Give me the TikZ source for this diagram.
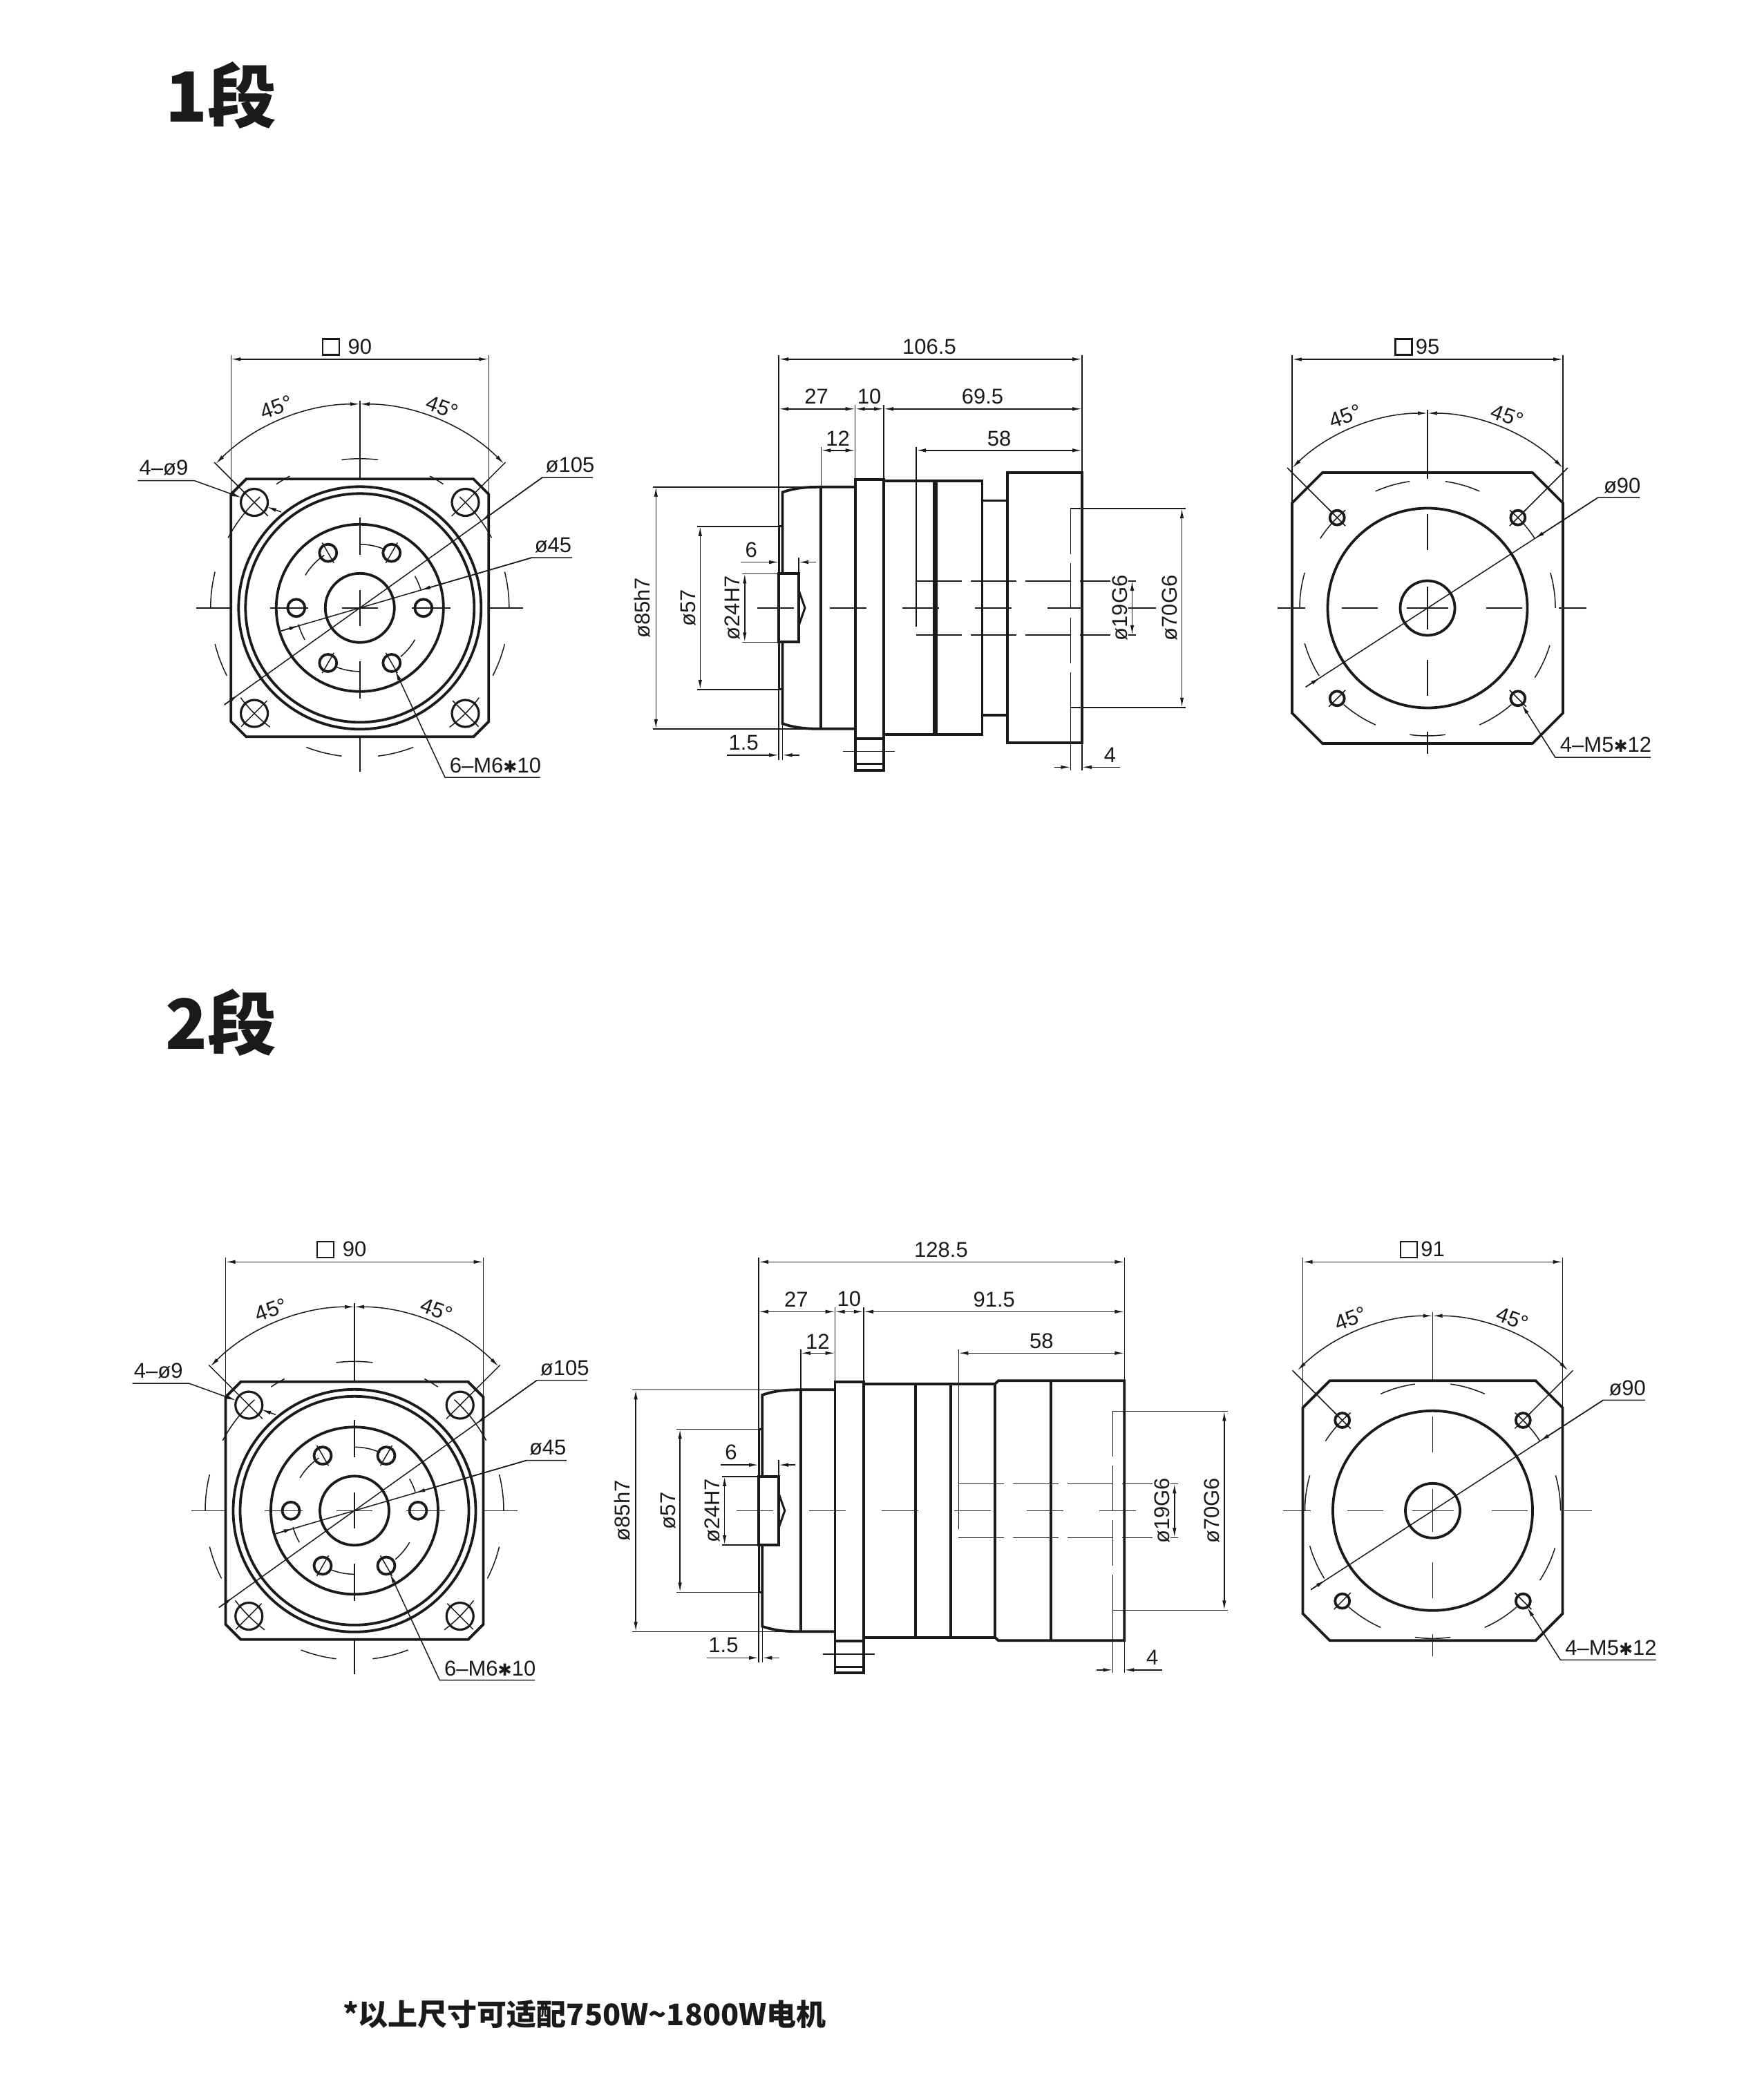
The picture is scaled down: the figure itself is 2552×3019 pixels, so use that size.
\documentclass[tikz,border=0pt]{standalone}
\usepackage{fontspec}
\setmainfont{Liberation Sans}
\newfontfamily\cjk{Noto Sans CJK SC}
\newfontfamily\symb{DejaVu Sans}
\usetikzlibrary{arrows.meta}
\definecolor{ink}{HTML}{1C1A19}
\tikzset{
  >={Latex[length=14pt,width=5.5pt]},
  main line/.style={draw=ink,line width=3.8pt,line join=miter},
  thin line/.style={draw=ink,line width=1.5pt},
  hidden line/.style={thin line,dash pattern=on 66pt off 13pt},
  centre line/.style={thin line,dash pattern=on 53pt off 52pt},
  dim text/.style={font=\fontsize{31}{36}\selectfont,text=ink,inner sep=0pt},
  square mark/.style={draw=ink,line width=2.6pt,minimum width=24pt,minimum height=23pt,inner sep=0pt},
  title/.style={font=\cjk\bfseries\fontsize{100}{110}\selectfont,text=ink,inner sep=0pt,anchor=west}
}
% flange seen from the output end
\newcommand\frontview[3]{
  \begin{scope}[shift={(#2,-#3)}]
    \draw[main line] (-164.5,186.5) -- (164.5,186.5) -- (186.5,164.5) -- (186.5,-164.5) -- (164.5,-186.5)
      -- (-164.5,-186.5) -- (-186.5,-164.5) -- (-186.5,164.5) -- cycle;
    \foreach \rad in {175.5,165.5,121,50}
      \draw[main line] (0,0) circle[radius=\rad];
    \foreach \ang in {0,60,...,300} {
      \draw[main line] (\ang:92) circle[radius=12.5];
      \draw[thin line] (\ang:75) -- (\ang:109);
    }
    \foreach \ang in {45,135,225,315}
      \draw[main line,line width=3.2pt] (\ang:216) circle[radius=19.5];
    \foreach \ang in {45,135}
      \draw[thin line] (\ang:188) -- (\ang:298);
    \foreach \ang in {225,315}
      \draw[thin line] (\ang:190) -- (\ang:243);
    % bolt circles
    \foreach \sa/\ea in {97/83,124/118,62/56,152/132,48/28,180/166,14/0,207/194,346/333,233/217,323/307,263/249,291/277}
      \draw[thin line] (\sa:216) arc[start angle=\sa,end angle=\ea,radius=216];
    \foreach \sa/\ea in {90/66,149/124,30/17,210/195,270/248,330/310}
      \draw[thin line] (\sa:92) arc[start angle=\sa,end angle=\ea,radius=92];
    % centre lines
    \foreach \sa/\ea in {300/187,131/77,26/-26,-77/-131,-186/-237} {
      \draw[thin line] (0,\sa) -- (0,\ea);
    }
    \foreach \sa/\ea in {-236.5/-186,-130/-75,-26/26,77/131,186/236}
      \draw[thin line] (\sa,0) -- (\ea,0);
    % dimensions
    \draw[thin line] (-186.5,366) -- (-186.5,164.5);
    \draw[thin line] (186.5,366) -- (186.5,164.5);
    \draw[thin line,<->] (-186.5,360) -- (186.5,360);
    \node[square mark] (#1box) at (-42,378) {};
    \node[dim text] (#1wide) at (0,378) {90};
    \draw[thin line,<->] (135:295) arc[start angle=135,end angle=90,radius=295];
    \draw[thin line,<->] (45:295) arc[start angle=45,end angle=90,radius=295];
    \node[dim text,rotate=20] (#1angl) at (-120.8,290.5) {45°};
    \node[dim text,rotate=-20] (#1angr) at (119.2,290.5) {45°};
    % leaders
    \node[dim text] (#1lhole) at (-283.8,202.8) {4–ø9};
    \draw[thin line,->] (-321.4,184.3) -- (-239.8,184.3) -- (-171.3,159.6);
    \draw[thin line,->] (-113.8,138.8) -- (-134.7,146.4);
    \node[dim text] (#1lpitch) at (304.2,206.8) {ø105};
    \draw[thin line] (337.2,188.8) -- (264.2,188.8) -- (215.55:241);
    \draw[thin line,->] (35.55:324.7) -- (35.55:216);
    \draw[thin line,->] (215.55:241) -- (215.55:216);
    \node[dim text] (#1lbolt) at (279.7,91.1) {ø45};
    \draw[thin line] (307.2,72.8) -- (249.2,72.8) -- (196.3:118.7);
    \draw[thin line,->] (16.3:259.6) -- (16.3:92);
    \draw[thin line,->] (196.3:118.7) -- (196.3:92);
    \node[dim text] (#1lthread) at (196.2,-228.2) {6–M6{\symb\fontsize{24}{36}\selectfont ✱}10};
    \draw[thin line,->] (260.8,-245.2) -- (123.2,-245.2) -- (51.3,-91);
  \end{scope}
}
% motor mounting plate; #4 half width, #5 corner cut, #6 size
\newcommand\rearview[6]{
  \begin{scope}[shift={(#2,-#3)}]
    \pgfmathsetmacro\plateflat{#4-#5}
    \draw[main line] (-\plateflat,#4) -- (\plateflat,#4) -- (#4,\plateflat) -- (#4,-\plateflat) -- (\plateflat,-#4)
      -- (-\plateflat,-#4) -- (-#4,-\plateflat) -- (-#4,\plateflat) -- cycle;
    \draw[main line] (0,0) circle[radius=144.5];
    \draw[main line] (0,0) circle[radius=39.5];
    \foreach \ang in {45,135,225,315} {
      \draw[main line] (\ang:185) circle[radius=10.5];
      \draw[thin line] (\ang:168) -- (\ang:202);
    }
    \foreach \ang in {45,135}
      \draw[thin line] (\ang:193) -- (\ang:287);
    \foreach \sa/\ea in {114/98,82/66,147/130,50/33,180/164,16/0,212/196,343/327,229/246,311/294,278/262}
      \draw[thin line] (\sa:185) arc[start angle=\sa,end angle=\ea,radius=185];
    \foreach \sa/\ea in {287/187,136/84,31/-31,-75/-127,-179/-211}
      \draw[thin line] (0,\sa) -- (0,\ea);
    \foreach \sa/\ea in {-217/-177,-124/-72,-30/30,85/137,190/230}
      \draw[thin line] (\sa,0) -- (\ea,0);
    \draw[thin line] (-#4,366) -- (-#4,\plateflat);
    \draw[thin line] (#4,366) -- (#4,\plateflat);
    \draw[thin line,<->] (-#4,360) -- (#4,360);
    \node[square mark] (#1box) at (-34.7,378) {};
    \node[dim text] (#1wide) at (0,378) {#6};
    \draw[thin line,<->] (134:282) arc[start angle=134,end angle=90,radius=282];
    \draw[thin line,<->] (46:282) arc[start angle=46,end angle=90,radius=282];
    \node[dim text,rotate=20] (#1angl) at (-119,278) {45°};
    \node[dim text,rotate=-20] (#1angr) at (115.6,278) {45°};
    \node[dim text] (#1lpitch) at (281.7,177) {ø90};
    \draw[thin line] (307.4,160) -- (246.9,160) -- (212.95:210);
    \draw[thin line,->] (32.95:294.2) -- (32.95:185);
    \draw[thin line,->] (212.95:210) -- (212.95:185);
    \node[dim text] (#1lthread) at (258,-198) {4–M5{\symb\fontsize{24}{36}\selectfont ✱}12};
    \draw[thin line,->] (323,-216) -- (184.8,-216) -- (136.6,-139.9);
  \end{scope}
}
% output end of the side view, measured from its left face
\newcommand\sidehead[3]{
  \begin{scope}[shift={(#2,-#3)}]
    \draw[main line] (0,49.5) rectangle (29,-49.5);
    \draw[main line,line width=3pt] (0,49.5) -- (0,118) -- (5.3,118);
    \draw[main line,line width=3pt] (0,-49.5) -- (0,-118) -- (5.3,-118);
    \draw[main line] (5.3,49.5) -- (5.3,167.5) .. controls (25,174) and (40,175) .. (61.1,175) -- (110.5,175);
    \draw[main line] (5.3,-49.5) -- (5.3,-167.5) .. controls (25,-174) and (40,-175) .. (61.1,-175) -- (110.5,-175);
    \draw[main line,line width=3pt] (29,25) -- (37.8,0) -- (29,-25);
    \draw[main line] (61.1,175) -- (61.1,-175);
    \draw[main line] (110.5,186) rectangle (151.8,-189);
    \draw[main line] (110.5,-189) -- (110.5,-235) -- (151.8,-235) -- (151.8,-189);
    \draw[main line,line width=3pt] (110.5,-226) -- (151.8,-226);
    \draw[thin line] (92.8,-207.5) -- (168.2,-207.5);
    % extension lines
    \draw[thin line] (0,366) -- (0,-220);
    \draw[thin line] (5.3,-167.5) -- (5.3,-220);
    \draw[thin line] (110.5,294) -- (110.5,186);
    \draw[thin line] (151.8,294) -- (151.8,186);
    \draw[thin line] (61.1,233) -- (61.1,175);
    \draw[thin line] (-182.7,175) -- (61.1,175);
    \draw[thin line] (-182.7,-175) -- (61.1,-175);
    \draw[thin line] (-118.7,118) -- (0,118);
    \draw[thin line] (-118.7,-118) -- (0,-118);
    \draw[thin line] (-53.2,49.5) -- (0,49.5);
    \draw[thin line] (-53.2,-49.5) -- (0,-49.5);
    \draw[thin line] (29,73) -- (29,49.5);
    % dimensions
    \draw[thin line,<->] (0,288) -- (110.5,288);
    \draw[thin line,<->] (110.5,288) -- (151.8,288);
    \draw[thin line,<->] (61.1,228) -- (110.5,228);
    \draw[thin line,<->] (-177.9,175) -- (-177.9,-175);
    \draw[thin line,<->] (-113.9,118) -- (-113.9,-118);
    \draw[thin line,<->] (-49.4,49.5) -- (-49.4,-49.5);
    \draw[thin line,->] (-54.8,66.2) -- (0,66.2);
    \draw[thin line,->] (53.3,66.2) -- (29,66.2);
    \draw[thin line,->] (-75.2,-213) -- (0,-213);
    \draw[thin line,->] (30.1,-213) -- (5.3,-213);
    \node[dim text] (#1t27) at (54.3,306) {27};
    \node[dim text] (#1t10) at (130.8,306) {10};
    \node[dim text] (#1t12) at (85.3,245) {12};
    \node[dim text,rotate=90] (#1t85) at (-197.2,0) {ø85h7};
    \node[dim text,rotate=90] (#1t57) at (-131,0) {ø57};
    \node[dim text,rotate=90] (#1t24) at (-67,0) {ø24H7};
    \node[dim text] (#1t6) at (-40,84) {6};
    \node[dim text] (#1t15) at (-51,-195) {1.5};
  \end{scope}
}
% input end of the side view, measured from its right face
\newcommand\sidetail[3]{
  \begin{scope}[shift={(#2,-#3)}]
    \draw[hidden line] (-240,39) -- (40.7,39);
    \draw[hidden line] (-240,-39) -- (40.7,-39);
    \draw[hidden line] (-16.7,144) -- (-16.7,-144);
    \draw[thin line] (-16.7,-144) -- (-16.7,-235);
    \draw[thin line] (-240,233) -- (-240,39);
    \draw[hidden line] (-240,39) -- (-240,-39);
    \draw[thin line] (0,366) -- (0,-235);
    \draw[thin line] (-16.7,144) -- (150,144);
    \draw[thin line] (-16.7,-144) -- (150,-144);
    \draw[thin line] (67,39) -- (78,39);
    \draw[thin line] (67,-39) -- (78,-39);
    \draw[thin line,<->] (-240,228) -- (0,228);
    \draw[thin line,<->] (144.5,144) -- (144.5,-144);
    \draw[thin line,<->] (72.5,39) -- (72.5,-39);
    \draw[thin line,->] (-40,-230.5) -- (-16.7,-230.5);
    \draw[thin line,->] (55,-230.5) -- (0,-230.5);
    \node[dim text] (#1t58) at (-120,245) {58};
    \node[dim text,rotate=90] (#1t19) at (54.5,0) {ø19G6};
    \node[dim text,rotate=90] (#1t70) at (126.7,0) {ø70G6};
    \node[dim text] (#1t4) at (40.5,-213) {4};
  \end{scope}
}

\begin{document}
\begin{tikzpicture}[x=1pt,y=1pt]
  \useasboundingbox (0,0) rectangle (2552,-3019);

  \node[title] (stage1) at (239,-138) {1段};
  \frontview{fa}{520.8}{879.8}
  \sidehead{ha}{1127.2}{879.8}
  \sidetail{ta}{1566}{879.8}
  \rearview{ra}{2066}{880}{196}{44}{95}
  \begin{scope}[shift={(0,-879.8)}]
    \draw[main line] (1279,183.5) rectangle (1421.5,-183);
    \draw[main line] (1352,183.5) -- (1352,-183);
    \draw[main line] (1355,183.5) -- (1355,-183);
    \draw[main line] (1421.5,155.3) -- (1457.8,155.3);
    \draw[main line] (1421.5,-154.8) -- (1457.8,-154.8);
    \draw[main line] (1457.8,196) rectangle (1566,-195.2);
    \draw[centre line] (1095.7,0) -- (1568,0);
    \draw[thin line] (1633,0) -- (1673,0);
    \draw[thin line,<->] (1127.2,360) -- (1566,360);
    \draw[thin line,<->] (1279,288) -- (1566,288);
    \node[dim text] (total1) at (1345,378) {106.5};
    \node[dim text] (rest1) at (1422,306) {69.5};
  \end{scope}

  \node[title] (stage2) at (239,-1480) {2段};
  \frontview{fb}{513}{2186.3}
  \sidehead{hb}{1098}{2186.3}
  \sidetail{tb}{1627.3}{2186.3}
  \rearview{rb}{2073.5}{2186.3}{188}{39}{91}
  \begin{scope}[shift={(0,-2186.3)}]
    \draw[main line] (1250,183.4) rectangle (1440,-183.4);
    \draw[main line] (1324.8,183.4) -- (1324.8,-183.4);
    \draw[main line] (1376.2,183.4) -- (1376.2,-183.4);
    \draw[main line] (1440,183.4) -- (1445,188) -- (1627.3,188) -- (1627.3,-188) -- (1445,-188) -- (1440,-183.4);
    \draw[main line] (1520.7,188) -- (1520.7,-188);
    \draw[centre line] (1066.4,0) -- (1643.8,0);
    \draw[thin line,<->] (1098,360) -- (1627.3,360);
    \draw[thin line,<->] (1250,288) -- (1627.3,288);
    \node[dim text] (total2) at (1362,377) {128.5};
    \node[dim text] (rest2) at (1438.7,305.7) {91.5};
  \end{scope}

  \node[font=\cjk\bfseries\fontsize{43}{50}\selectfont,text=ink,inner sep=0pt] (remark) at (846,-2915) {*以上尺寸可适配750W\textasciitilde 1800W电机};
\end{tikzpicture}
\end{document}
